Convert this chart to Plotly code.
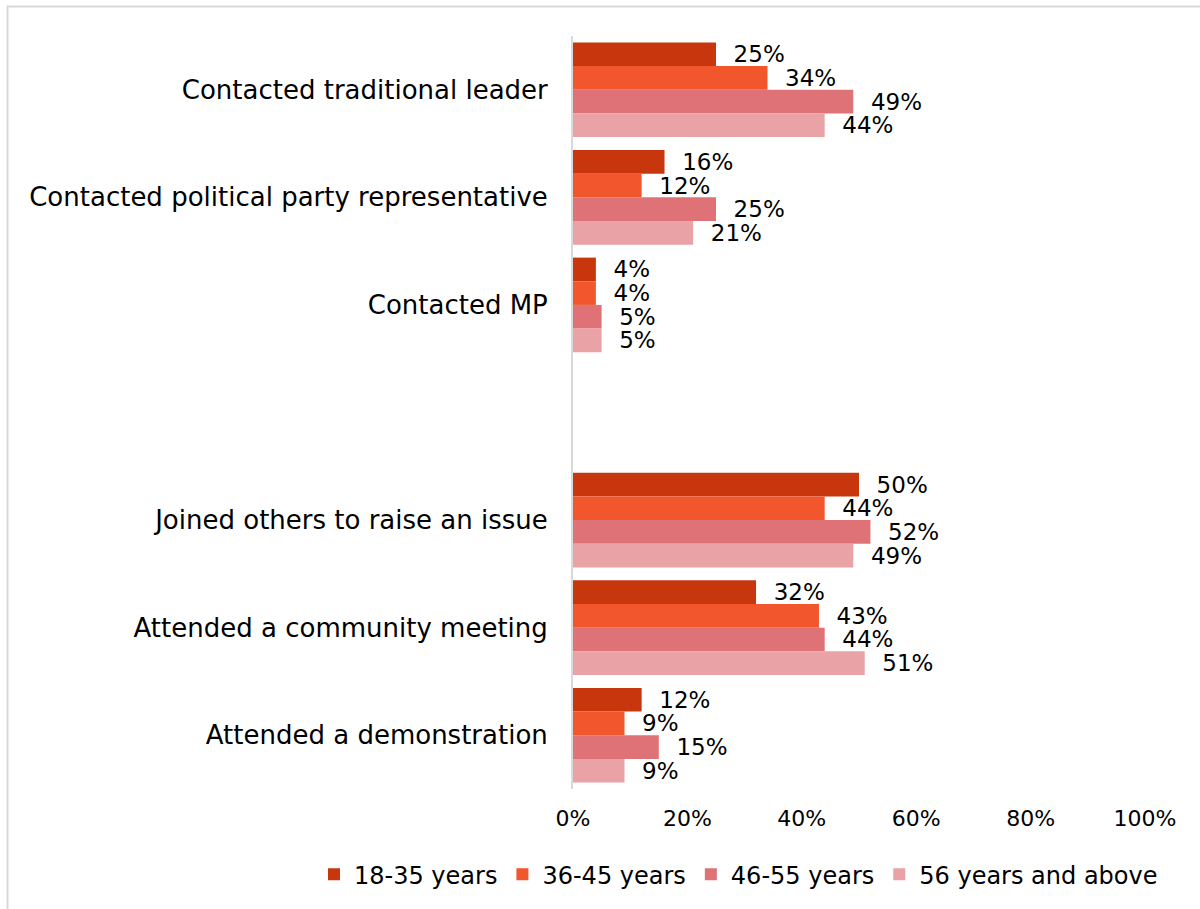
import plotly.graph_objects as go

# Categories, top to bottom (blank entry separates the two groups)
categories = [
    "Contacted traditional leader",
    "Contacted political party representative",
    "Contacted MP",
    " ",
    "Joined others to raise an issue",
    "Attended a community meeting",
    "Attended a demonstration",
]

age_groups = ["18-35 years", "36-45 years", "46-55 years", "56 years and above"]

v_18_35 = [25, 16, 4, None, 50, 32, 12]
v_36_45 = [34, 12, 4, None, 44, 43, 9]
v_46_55 = [49, 25, 5, None, 52, 44, 15]
v_56_up = [44, 21, 5, None, 49, 51, 9]

series = [v_18_35, v_36_45, v_46_55, v_56_up]
colors = ["#C8360E", "#F2562C", "#DE7277", "#E9A2A6"]

x_ticks = [0, 20, 40, 60, 80, 100]
x_tick_text = ["0%", "20%", "40%", "60%", "80%", "100%"]

FONT = "DejaVu Sans"

fig = go.Figure()
for name, vals, col in zip(age_groups, series, colors):
    fig.add_trace(go.Bar(
        y=categories,
        x=vals,
        name=name,
        orientation="h",
        marker=dict(color=col, line=dict(width=0)),
        text=[f"  {v}%" if v is not None else "" for v in vals],
        textposition="outside",
        constraintext="none",
        textfont=dict(family=FONT, size=23, color="#000000"),
        cliponaxis=False,
        hoverinfo="skip",
    ))

W, H = 1200, 909
ml, mr, mt, mb = 573, 55, 36, 117
pw, ph = W - ml - mr, H - mt - mb

def px_x(px):
    return (px - ml) / pw

def px_y(py):
    return (H - mb - py) / ph

fig.update_layout(
    width=W,
    height=H,
    margin=dict(l=ml, r=mr, t=mt, b=mb),
    paper_bgcolor="white",
    plot_bgcolor="white",
    barmode="group",
    bargap=0.12,
    bargroupgap=0,
    font=dict(family=FONT, color="#000000"),
    showlegend=True,
    legend=dict(
        orientation="h",
        x=px_x(314),
        xanchor="left",
        y=px_y(878),
        yanchor="middle",
        font=dict(family=FONT, size=24, color="#000000"),
        itemwidth=30,
        traceorder="normal",
    ),
    xaxis=dict(
        range=[0, 100],
        tickvals=x_ticks,
        ticktext=x_tick_text,
        showgrid=False,
        zeroline=False,
        showline=False,
        ticks="",
        ticklabelstandoff=14,
        tickfont=dict(family=FONT, size=22, color="#000000"),
        fixedrange=True,
    ),
    yaxis=dict(
        categoryorder="array",
        categoryarray=categories,
        autorange="reversed",
        showgrid=False,
        zeroline=False,
        showline=True,
        linecolor="#D9D9D9",
        linewidth=2,
        ticks="",
        ticklabelstandoff=18,
        tickfont=dict(family=FONT, size=26, color="#000000"),
        fixedrange=True,
    ),
    shapes=[
        dict(
            type="rect",
            xref="paper", yref="paper",
            x0=px_x(7.5), x1=px_x(1210),
            y0=px_y(920), y1=px_y(6.5),
            line=dict(color="#D9D9D9", width=2),
            fillcolor="rgba(0,0,0,0)",
            layer="below",
        )
    ],
)

fig.write_html("out.html")
